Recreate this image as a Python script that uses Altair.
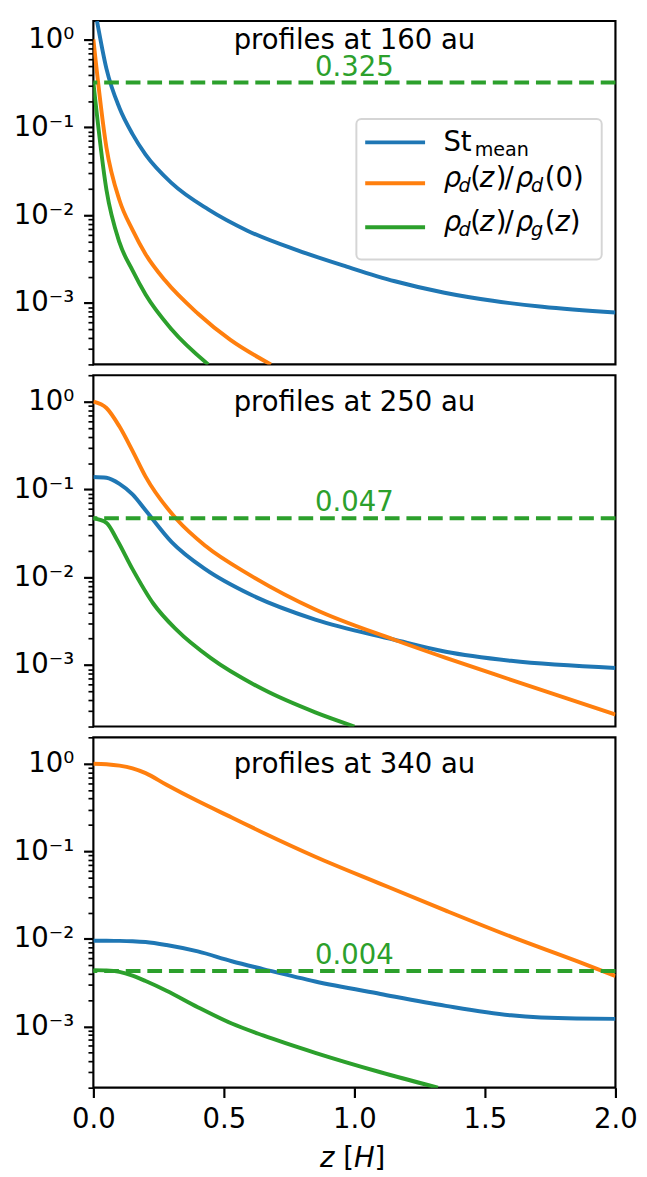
import altair as alt
import pandas as pd

FONT = "DejaVu Sans"
radii = ["160", "250", "340"]
eps_mid = [0.325, 0.047, 0.0043]
series_names = ["St_mean", "rho_d(z)/rho_d(0)", "rho_d(z)/rho_g(z)"]
colors = ["#1f77b4", "#ff7f0e", "#2ca02c"]

# ---- 160 au ----  (St_mean leaves the top of the panel near z = 0.014)
z_st_160 = [0.014, 0.05, 0.1, 0.15, 0.2, 0.3, 0.44, 0.59, 0.78, 0.97, 1.155, 1.345, 1.53, 1.72, 2.0]
st_160 = [1.62, 0.466, 0.166, 0.0838, 0.049, 0.0232, 0.01165, 0.00667, 0.0040, 0.0026, 0.00177, 0.00131, 0.00106, 0.000906, 0.00078]
z_rd_160 = [0.0, 0.05, 0.1, 0.15, 0.2, 0.275, 0.4, 0.525, 0.68]
rd_160 = [1.0, 0.059, 0.0148, 0.0068, 0.0036, 0.0018, 0.00076, 0.00038, 0.0002]
z_eg_160 = [0.0, 0.05, 0.1, 0.15, 0.2, 0.3, 0.44]
eg_160 = [0.325, 0.0195, 0.0049, 0.00235, 0.00125, 0.0005, 0.0002]

# ---- 250 au ----
z_st_250 = [0.0, 0.05, 0.1, 0.15, 0.2, 0.3, 0.43, 0.6, 0.85, 1.15, 1.35, 1.6, 2.0]
st_250 = [0.139, 0.136, 0.116, 0.088, 0.058, 0.0252, 0.0123, 0.0064, 0.0033, 0.00196, 0.00142, 0.00112, 0.00093]
z_rd_250 = [0.0, 0.05, 0.1, 0.15, 0.2, 0.32, 0.43, 0.6, 0.85, 1.15, 1.35, 1.6, 2.0]
rd_250 = [1.0, 0.847, 0.52, 0.275, 0.14, 0.0455, 0.0227, 0.0106, 0.0043, 0.00196, 0.00121, 0.00068, 0.000274]
z_eg_250 = [0.0, 0.05, 0.09, 0.15, 0.23, 0.32, 0.45, 0.65, 0.85, 1.0]
eg_250 = [0.047, 0.0418, 0.027, 0.0124, 0.0050, 0.0025, 0.0012, 0.00053, 0.00029, 0.0002]

# ---- 340 au ----
z_st_340 = [0.0, 0.05, 0.1, 0.15, 0.2, 0.28, 0.4, 0.53, 0.65, 0.85, 1.1, 1.35, 1.6, 1.85, 2.0]
st_340 = [0.0095, 0.0095, 0.00948, 0.0094, 0.0092, 0.0085, 0.00718, 0.00555, 0.00452, 0.00326, 0.00235, 0.00172, 0.00134, 0.00123, 0.00122]
z_rd_340 = [0.0, 0.05, 0.1, 0.15, 0.2, 0.28, 0.4, 0.53, 0.65, 0.85, 1.1, 1.35, 1.6, 1.85, 2.0]
rd_340 = [1.0, 0.987, 0.95, 0.883, 0.78, 0.575, 0.374, 0.243, 0.163, 0.0867, 0.0425, 0.021, 0.0106, 0.0056, 0.00377]
z_eg_340 = [0.0, 0.05, 0.1, 0.15, 0.2, 0.28, 0.4, 0.53, 0.65, 0.85, 1.1, 1.32]
eg_340 = [0.0044, 0.00437, 0.0042, 0.0038, 0.0033, 0.00256, 0.00166, 0.00108, 0.00079, 0.0005, 0.0003, 0.0002]

panel_series = {
    "160": [(z_st_160, st_160), (z_rd_160, rd_160), (z_eg_160, eg_160)],
    "250": [(z_st_250, st_250), (z_rd_250, rd_250), (z_eg_250, eg_250)],
    "340": [(z_st_340, st_340), (z_rd_340, rd_340), (z_eg_340, eg_340)],
}

rows = []
for r in radii:
    for name, (zs, vs) in zip(series_names, panel_series[r]):
        for z, v in zip(zs, vs):
            rows.append({"panel": r, "series": name, "z": z, "value": v})
df = pd.DataFrame(rows)

W = 532
heights = [350, 358, 357]
ymax = [1.628, 2.0, 2.0]
title_y = [28.7, 36.7, 36.7]

major_test = "abs(log(datum.value)/LN10 - round(log(datum.value)/LN10)) < 0.001"
label_expr = ("(" + major_test + ") ? ('10' + ['⁰','⁻¹','⁻²','⁻³','⁻⁴'][-round(log(datum.value)/LN10)]) : ''")


def yticks_for(top):
    # major decades + minor 2..9, kept inside the panel's range
    out = []
    for e in range(-4, 1):
        for m in range(1, 10):
            v = m * 10.0 ** e
            if 2e-4 * 0.999 <= v <= top * 1.001:
                out.append(float(f"{v:.6g}"))
    return out


def yaxis(i):
    return alt.Axis(values=yticks_for(ymax[i]), labelExpr=label_expr, labelOverlap=False,
                    tickSize={"condition": {"test": major_test, "value": 10}, "value": 5.5},
                    tickWidth={"condition": {"test": major_test, "value": 2.2}, "value": 1.7},
                    labelFontSize={"condition": {"test": major_test, "value": 28}, "value": 0},
                    tickColor="black", labelColor="black", labelFont=FONT,
                    labelPadding=10, domain=False, grid=False, title=None,
                    minExtent=85, maxExtent=85)


def xaxis(i):
    if i != 2:
        return None
    return alt.Axis(values=[0, 0.5, 1.0, 1.5, 2.0], format=".1f", labelFontSize=28,
                    labelFont=FONT, labelColor="black", tickColor="black", tickSize=10,
                    tickWidth=2.2, labelPadding=9, domain=False, grid=False, labelFlush=False,
                    title=None)


def legend_layers():
    box = alt.Chart(pd.DataFrame({"a": [0]})).mark_rect(
        fill="white", fillOpacity=0.8, stroke="#d5d5d5", strokeWidth=2, cornerRadius=5
    ).encode(x=alt.value(268), x2=alt.value(518), y=alt.value(100), y2=alt.value(243))
    ldf = pd.DataFrame({"series": series_names, "ly": [123.7, 165.3, 210.3]})
    samples = alt.Chart(ldf).mark_rule(strokeWidth=4).encode(
        x=alt.value(277), x2=alt.value(338), y=alt.Y("ly:Q", scale=None),
        color=alt.Color("series:N", scale=alt.Scale(domain=series_names, range=colors), legend=None),
    )
    b2, s2, b3, s3 = 169, 174.5, 214, 219.5
    segs = [
        ("St", 356.7, 132.7, 28, "normal"), ("mean", 388.5, 137.5, 19.5, "normal"),
        ("ρ", 357, b2, 28, "italic"), ("d", 372, s2, 19.5, "italic"), ("(", 384, b2, 28, "normal"),
        ("z", 393.7, b2, 28, "italic"), (")", 410, b2, 28, "normal"), ("/", 419, b2, 28, "normal"),
        ("ρ", 430.5, b2, 28, "italic"), ("d", 446, s2, 19.5, "italic"), ("(0)", 460, b2, 28, "normal"),
        ("ρ", 357, b3, 28, "italic"), ("d", 372, s3, 19.5, "italic"), ("(", 384, b3, 28, "normal"),
        ("z", 393.7, b3, 28, "italic"), (")", 410, b3, 28, "normal"), ("/", 419, b3, 28, "normal"),
        ("ρ", 430.5, b3, 28, "italic"), ("g", 446, s3, 19.5, "italic"), ("(", 460, b3, 28, "normal"),
        ("z", 470.7, b3, 28, "italic"), (")", 485.5, b3, 28, "normal"),
    ]
    sdf = pd.DataFrame(segs, columns=["t", "px", "py", "fs", "style"])
    out = []
    for style in ["normal", "italic"]:
        out.append(
            alt.Chart(sdf[sdf["style"] == style]).mark_text(
                font=FONT, fontStyle=style, align="left", baseline="alphabetic", color="black"
            ).encode(
                x=alt.X("px:Q", scale=None), y=alt.Y("py:Q", scale=None),
                size=alt.Size("fs:Q", scale=None, legend=None), text="t:N",
            )
        )
    return [box, samples] + out


def xtitle_layers():
    # "z [H]" with italic z and H, upright brackets (as matplotlib mathtext)
    parts = [("z", 231, "italic"), ("[", 254.6, "normal"), ("H", 265.5, "italic"), ("]", 286.5, "normal")]
    out = []
    for t, px, style in parts:
        out.append(
            alt.Chart(pd.DataFrame({"t": [t]})).mark_text(
                font=FONT, fontSize=28, fontStyle=style, align="left", baseline="alphabetic",
                color="black"
            ).encode(x=alt.value(px), y=alt.value(438), text="t:N")
        )
    return out


def make_panel(i):
    r = radii[i]
    d = df[df.panel == r]
    xs = alt.Scale(domain=[0, 2], nice=False, zero=False)
    ys = alt.Scale(type="log", domain=[2e-4, ymax[i]], nice=False)

    def X():
        return alt.X("z:Q", scale=xs, axis=xaxis(i))

    def Y():
        return alt.Y("value:Q", scale=ys, axis=yaxis(i))

    lines = alt.Chart(d).mark_line(strokeWidth=4, clip=True, interpolate="monotone").encode(
        x=X(), y=Y(),
        color=alt.Color("series:N", scale=alt.Scale(domain=series_names, range=colors), legend=None),
    )
    epsdf = pd.DataFrame({"value": [eps_mid[i]], "z": [1.0], "label": [f"{eps_mid[i]:.3f}"]})
    rule = alt.Chart(epsdf).mark_rule(color=colors[2], strokeDash=[15, 7], strokeWidth=4).encode(y=Y())
    epstxt = alt.Chart(epsdf).mark_text(color=colors[2], fontSize=28, font=FONT, baseline="bottom",
                                         align="center", dy=-1).encode(x=X(), y=Y(), text="label:N")
    tdf = pd.DataFrame({"z": [1.0], "label": [f"profiles at {r} au"]})
    title = alt.Chart(tdf).mark_text(fontSize=28, font=FONT, baseline="alphabetic", align="center",
                                      color="black").encode(
        x=X(), y=alt.value(title_y[i]), text="label:N"
    )
    layers = [lines, rule, epstxt, title]
    if i == 0:
        layers += legend_layers()
    if i == 2:
        layers += xtitle_layers()
    return alt.layer(*layers).properties(width=W, height=heights[i])


chart = alt.vconcat(make_panel(0), make_panel(1), make_panel(2), spacing=7).properties(
    padding=0
).configure(font=FONT).configure_view(stroke="black", strokeWidth=2.2)

chart.save("out.html", embed_options={"renderer": "svg", "actions": False})
